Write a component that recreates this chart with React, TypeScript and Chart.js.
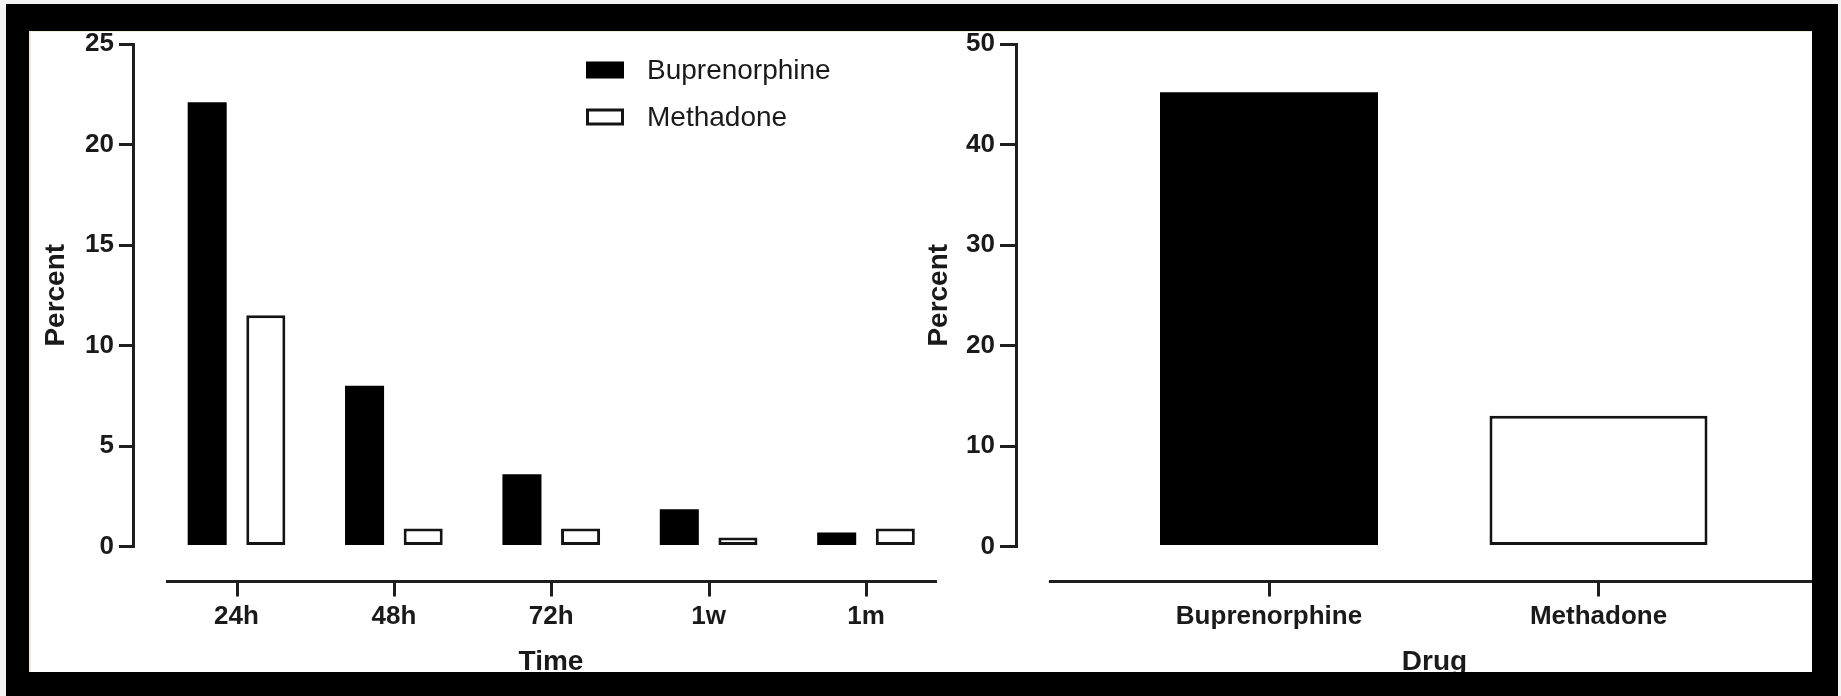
import React, { useEffect, useRef } from 'react';
import { Chart, registerables } from 'chart.js';

Chart.register(...registerables);

// ---------------- data ----------------
const timeLabels = ['24h', '48h', '72h', '1w', '1m'];
const buprenorphineByTime = [22.1, 8.0, 3.6, 1.85, 0.7];
const methadoneByTime = [11.5, 0.9, 0.9, 0.45, 0.9];
const leftYTicks = [0, 5, 10, 15, 20, 25];

const drugLabels = ['Buprenorphine', 'Methadone'];
const drugPercent = [45.2, 13.0];
const rightYTicks = [0, 10, 20, 30, 40, 50];

// ---------------- styles ----------------
const FONT = "'Liberation Sans', Arial, Helvetica, sans-serif";
const AXIS = '#1e1e1e';
const TEXT = '#1a1a1a';

Chart.defaults.font.family = FONT;
Chart.defaults.color = TEXT;

const detachedXAxis = {
  id: 'detachedXAxis',
  afterDraw(chart: any, _args: any, opts: any) {
    const { ctx, chartArea, scales } = chart;
    const x = scales.x;
    const y = chartArea.bottom + opts.gap;
    ctx.save();
    ctx.strokeStyle = AXIS;
    ctx.lineWidth = 3;
    ctx.lineCap = 'butt';
    ctx.beginPath();
    ctx.moveTo(x.getPixelForValue(opts.from), y);
    ctx.lineTo(x.getPixelForValue(opts.to), y);
    ctx.stroke();
    ctx.beginPath();
    x.ticks.forEach((t: any) => {
      const px = Math.round(x.getPixelForValue(t.value)) + 0.5;
      ctx.moveTo(px, y);
      ctx.lineTo(px, y + opts.tickLength);
    });
    ctx.stroke();
    ctx.restore();
  },
};

const boxLegend = {
  id: 'boxLegend',
  afterDraw(chart: any, _args: any, opts: any) {
    if (!opts || !opts.display) return;
    const { ctx } = chart;
    ctx.save();
    ctx.font = `normal ${opts.fontSize}px ${FONT}`;
    ctx.textBaseline = 'middle';
    ctx.textAlign = 'left';
    chart.data.datasets.forEach((ds: any, i: number) => {
      const cy = opts.y + i * opts.rowGap;
      const bw = ds.borderWidth || 0;
      ctx.fillStyle = ds.backgroundColor;
      ctx.fillRect(opts.x, cy - opts.boxH / 2, opts.boxW, opts.boxH);
      if (bw > 0) {
        ctx.strokeStyle = ds.borderColor;
        ctx.lineWidth = bw;
        ctx.strokeRect(opts.x + bw / 2, cy - opts.boxH / 2 + bw / 2, opts.boxW - bw, opts.boxH - bw);
      }
      ctx.fillStyle = TEXT;
      ctx.fillText(ds.label, opts.textX, cy + 1);
    });
    ctx.restore();
  },
};

const rangeFor = (left: number, right: number, x0: number, unit: number) => ({
  min: (left - x0) / unit,
  max: (right - x0) / unit,
});

function yScale(ticks: number[], width: number, tickLength: number, titlePad: number) {
  return {
    type: 'linear',
    position: 'left',
    min: ticks[0],
    max: ticks[ticks.length - 1],
    bounds: 'data',
    offset: false,
    afterBuildTicks: (s: any) => {
      s.ticks = ticks.map((value) => ({ value }));
    },
    afterFit: (s: any) => {
      s.width = width;
      s.paddingTop = 0;
      s.paddingBottom = 0;
    },
    ticks: {
      font: { size: 26, weight: 'bold' },
      color: TEXT,
      padding: 5,
      autoSkip: false,
    },
    grid: {
      display: true,
      drawOnChartArea: false,
      drawTicks: true,
      tickLength,
      lineWidth: 3,
      color: AXIS,
    },
    border: { display: true, width: 3, color: AXIS },
    title: {
      display: true,
      text: 'Percent',
      font: { size: 28, weight: 'bold' },
      color: TEXT,
      padding: { top: titlePad, bottom: 0 },
    },
  };
}

function xScale(labels: string[], range: { min: number; max: number }, title: string) {
  return {
    type: 'linear',
    position: 'bottom',
    min: range.min,
    max: range.max,
    bounds: 'data',
    offset: false,
    afterBuildTicks: (s: any) => {
      s.ticks = labels.map((_, i) => ({ value: i }));
    },
    afterFit: (s: any) => {
      s.height = 144.5;
      s.paddingLeft = 0;
      s.paddingRight = 0;
    },
    ticks: {
      callback: (_v: any, i: number) => labels[i],
      font: { size: 26, weight: 'bold' },
      color: TEXT,
      padding: 55,
      autoSkip: false,
      maxRotation: 0,
      minRotation: 0,
    },
    grid: { display: false, drawTicks: false, offset: false },
    border: { display: false },
    title: {
      display: true,
      text: title,
      font: { size: 28, weight: 'bold' },
      color: TEXT,
      padding: { top: 0, bottom: 12 },
    },
  };
}

const CANVAS_H = 660;
const LEFT_W = 940;
const RIGHT_W = 948;

function TimeChart() {
  const ref = useRef<HTMLCanvasElement | null>(null);
  useEffect(() => {
    const canvas = ref.current;
    if (!canvas) return;
    const chart = new Chart(canvas, {
      type: 'bar',
      data: {
        datasets: [
          {
            label: 'Buprenorphine',
            data: buprenorphineByTime.map((y, x) => ({ x, y })),
            backgroundColor: '#000000',
            borderColor: '#000000',
            borderWidth: 0,
            borderSkipped: false,
          },
          {
            label: 'Methadone',
            data: methadoneByTime.map((y, x) => ({ x, y })),
            backgroundColor: '#ffffff',
            borderColor: '#141414',
            borderWidth: 3,
            borderSkipped: false,
          },
        ],
      } as any,
      options: {
        animation: false,
        responsive: false,
        devicePixelRatio: 1,
        categoryPercentage: 0.745,
        barPercentage: 0.666,
        layout: { autoPadding: false, padding: { left: 0, top: 13, right: 0, bottom: 0 } },
        scales: {
          x: xScale(timeLabels, rangeFor(104, LEFT_W, 207.5, 157.375), 'Time'),
          y: yScale(leftYTicks, 104, 14, 10.2),
        },
        plugins: {
          legend: { display: false },
          tooltip: { enabled: false },
          detachedXAxis: { gap: 35, from: -0.448, to: 4.451, tickLength: 15 },
          boxLegend: {
            display: true,
            x: 557,
            y: 39,
            rowGap: 47,
            boxW: 38,
            boxH: 17,
            textX: 618,
            fontSize: 28,
          },
        },
      } as any,
      plugins: [detachedXAxis, boxLegend],
    });
    return () => chart.destroy();
  }, []);
  return (
    <canvas
      ref={ref}
      width={LEFT_W}
      height={CANVAS_H}
      style={{ position: 'absolute', left: 0, top: 0, width: LEFT_W, height: CANVAS_H }}
    />
  );
}

function DrugChart() {
  const ref = useRef<HTMLCanvasElement | null>(null);
  useEffect(() => {
    const canvas = ref.current;
    if (!canvas) return;
    const chart = new Chart(canvas, {
      type: 'bar',
      data: {
        datasets: [
          {
            label: 'Percent',
            data: drugPercent.map((y, x) => ({ x, y })),
            backgroundColor: ['#000000', '#ffffff'],
            borderColor: ['#000000', '#141414'],
            borderWidth: [0, 3],
            borderSkipped: false,
          },
        ],
      } as any,
      options: {
        animation: false,
        responsive: false,
        devicePixelRatio: 1,
        categoryPercentage: 1,
        barPercentage: 0.6616,
        layout: { autoPadding: false, padding: { left: 0, top: 13, right: 0, bottom: 0 } },
        scales: {
          x: xScale(drugLabels, rangeFor(111, RIGHT_W, 364, 329.5), 'Drug'),
          y: yScale(rightYTicks, 111, 16, 17.2),
        },
        plugins: {
          legend: { display: false },
          tooltip: { enabled: false },
          detachedXAxis: { gap: 35, from: -0.668, to: 1.9, tickLength: 15 },
          boxLegend: { display: false },
        },
      } as any,
      plugins: [detachedXAxis, boxLegend],
    });
    return () => chart.destroy();
  }, []);
  return (
    <canvas
      ref={ref}
      width={RIGHT_W}
      height={CANVAS_H}
      style={{ position: 'absolute', left: 876, top: 0, width: RIGHT_W, height: CANVAS_H }}
    />
  );
}

export default function App() {
  return (
    <div
      style={{
        position: 'fixed',
        left: 0,
        top: 0,
        width: 1841,
        height: 696,
        background: '#f4f4f4',
        overflow: 'hidden',
      }}
    >
      <div style={{ position: 'absolute', left: 6, top: 4, width: 1832, height: 692, background: '#000' }} />
      <div
        style={{
          position: 'absolute',
          left: 29,
          top: 31,
          width: 1783,
          height: 641,
          background: '#fff',
          overflow: 'hidden',
          boxShadow: 'inset 2px 1px 0 #f6eadb',
        }}
      >
        <TimeChart />
        <DrugChart />
      </div>
    </div>
  );
}
